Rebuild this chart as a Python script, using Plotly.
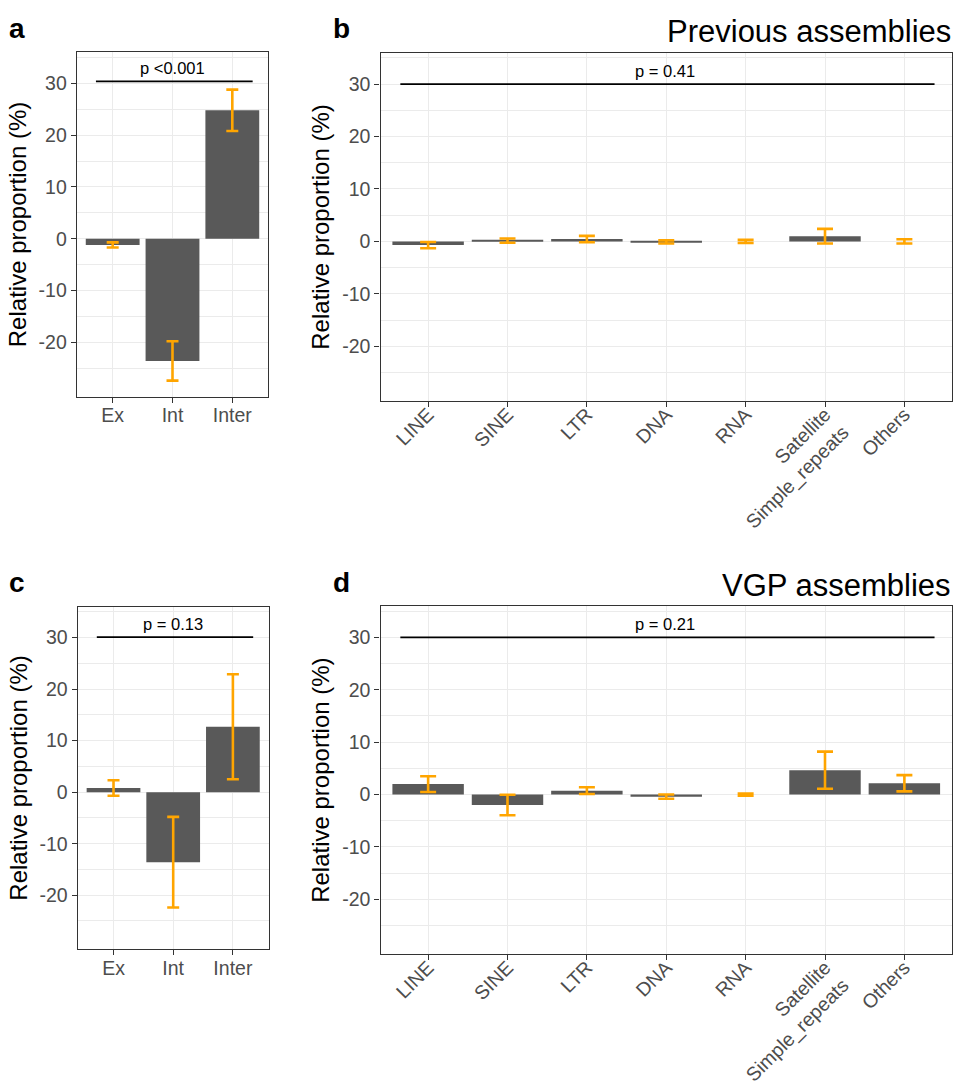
import plotly.graph_objects as go

# ---------------- data ----------------
region_cats = ["Ex", "Int", "Inter"]
repeat_cats = ["LINE", "SINE", "LTR", "DNA", "RNA", "Satellite\nSimple_repeats", "Others"]

a_vals = [-1.2, -23.6, 24.8]
a_err = [0.5, 3.8, 4.0]

b_vals = [-0.7, 0.15, 0.45, -0.1, 0.0, 1.0, 0.0]
b_err = [0.6, 0.4, 0.6, 0.3, 0.3, 1.4, 0.4]

c_vals = [0.8, -13.6, 12.7]
c_err = [1.5, 8.8, 10.2]

d_vals = [2.0, -2.0, 0.75, -0.4, 0.0, 4.65, 2.15]
d_err = [1.5, 1.95, 0.65, 0.4, 0.2, 3.55, 1.55]

p_labels = ["p <0.001", "p = 0.41", "p = 0.13", "p = 0.21"]
bracket_y = [30.4, 30.0, 30.1, 30.0]
panel_letters = ["a", "b", "c", "d"]
panel_titles = ["", "Previous assemblies", "", "VGP assemblies"]
y_ticks = [-20, -10, 0, 10, 20, 30]
y_title = "Relative proportion (%)"

# ---------------- layout helpers ----------------
W, H = 957, 1090
FONT = "Arial, Liberation Sans, Helvetica, sans-serif"
BAR = "#595959"
ERR = "#FFA500"
GRID = "#EBEBEB"
DARK = "#333333"
TICKTXT = "#4D4D4D"
Y_RANGE = [-30.5, 36.0]
TICK_SIZE = 19.5
NBSP_EM = 0.278

# approximate Arial advance widths (em) used to right-align multi-line tick labels
_WIDTHS = {c: 0.556 for c in "abdeghnopqu0123456789_"}
_WIDTHS.update({"S": 0.667, "i": 0.222, "l": 0.222, "m": 0.833, "r": 0.333, "t": 0.278,
                "s": 0.5, "c": 0.5, "k": 0.5, "v": 0.5, "x": 0.5, "y": 0.5, "z": 0.5})


def text_em(s):
    return sum(_WIDTHS.get(ch, 0.6) for ch in s)


def tick_label(cat):
    """Right-align the lines of a multi-line label (as ggplot does with hjust=1)."""
    lines = cat.split("\n")
    if len(lines) == 1:
        return cat
    widest = max(text_em(l) for l in lines)
    out = []
    for l in lines:
        pad = int(round((widest - text_em(l)) / NBSP_EM))
        out.append("&nbsp;" * pad + l)
    return "<br>".join(out)


def px_x(v):
    return v / W


def px_y(v):
    return 1 - v / H


panels = [
    dict(cats=region_cats, vals=a_vals, err=a_err, xd=(76.8, 268.2), yd=(52.3, 396.7),
         br=(-0.28, 0.34), cap=6, angle=0, stand=-4),
    dict(cats=repeat_cats, vals=b_vals, err=b_err, xd=(380.5, 952.0), yd=(52.7, 401.3),
         br=(-0.35, 0.38), cap=8, angle=-45, stand=-12),
    dict(cats=region_cats, vals=c_vals, err=c_err, xd=(77.7, 268.7), yd=(606.7, 949.3),
         br=(-0.28, 0.34), cap=6, angle=0, stand=-4),
    dict(cats=repeat_cats, vals=d_vals, err=d_err, xd=(380.5, 952.0), yd=(606.0, 954.3),
         br=(-0.35, 0.38), cap=8, angle=-45, stand=-12),
]

fig = go.Figure()
shapes = []
annotations = []
minor_vals = [t + 5 for t in [y_ticks[0] - 10] + y_ticks]

for i, p in enumerate(panels):
    n = i + 1
    xa = "x" if n == 1 else f"x{n}"
    ya = "y" if n == 1 else f"y{n}"
    xkey = "xaxis" if n == 1 else f"xaxis{n}"
    ykey = "yaxis" if n == 1 else f"yaxis{n}"
    ncat = len(p["cats"])

    fig.add_trace(go.Bar(
        x=p["cats"], y=p["vals"], width=0.9,
        marker=dict(color=BAR, line=dict(width=0)),
        error_y=dict(type="data", array=p["err"], color=ERR, thickness=2.6, width=p["cap"]),
        xaxis=xa, yaxis=ya, showlegend=False, hoverinfo="skip",
    ))

    fig.layout[xkey] = dict(
        domain=[px_x(p["xd"][0]), px_x(p["xd"][1])], anchor=ya,
        type="category", categoryorder="array", categoryarray=p["cats"],
        tickmode="array", tickvals=p["cats"], ticktext=[tick_label(c) for c in p["cats"]],
        range=[-0.6, ncat - 0.4],
        showgrid=True, gridcolor=GRID, gridwidth=1.1, zeroline=False,
        ticks="outside", ticklen=5, tickwidth=1.1, tickcolor=DARK,
        tickfont=dict(size=TICK_SIZE, color=TICKTXT, family=FONT), tickangle=p["angle"],
        ticklabelstandoff=p["stand"],
        showline=True, mirror=True, linecolor=DARK, linewidth=1.3,
        automargin=False, fixedrange=True,
    )
    fig.layout[ykey] = dict(
        domain=[px_y(p["yd"][1]), px_y(p["yd"][0])], anchor=xa,
        range=Y_RANGE, tickvals=y_ticks, ticktext=[str(t) for t in y_ticks],
        showgrid=True, gridcolor=GRID, gridwidth=1.1, zeroline=False,
        minor=dict(tickvals=minor_vals, showgrid=True, gridcolor=GRID, gridwidth=0.6, ticks=""),
        ticks="outside", ticklen=5, tickwidth=1.1, tickcolor=DARK,
        tickfont=dict(size=TICK_SIZE, color=TICKTXT, family=FONT),
        showline=True, mirror=True, linecolor=DARK, linewidth=1.3,
        title=dict(text=y_title, font=dict(size=24, color="black", family=FONT), standoff=5),
        automargin=False, fixedrange=True,
    )

    # significance bracket
    x0 = p["br"][0]
    x1 = ncat - 1 + p["br"][1]
    shapes.append(dict(type="line", xref=xa, yref=ya, x0=x0, x1=x1,
                       y0=bracket_y[i], y1=bracket_y[i],
                       line=dict(color="black", width=1.8)))
    annotations.append(dict(text=p_labels[i], xref=xa, yref=ya, x=(x0 + x1) / 2 - 0.03,
                            y=bracket_y[i] + 0.4, yanchor="bottom", xanchor="center",
                            showarrow=False, font=dict(size=16.5, color="black", family=FONT)))

    # panel letter
    annotations.append(dict(text=f"<b>{panel_letters[i]}</b>", xref="paper", yref="paper",
                            x=px_x(7 if i % 2 == 0 else 331), y=px_y(p["yd"][0] - 24),
                            xanchor="left", yanchor="middle", showarrow=False,
                            font=dict(size=28, color="black", family=FONT)))
    # panel title
    if panel_titles[i]:
        annotations.append(dict(text=panel_titles[i], xref="paper", yref="paper",
                                x=px_x(p["xd"][1] + 1), y=px_y(p["yd"][0] - 21),
                                xanchor="right", yanchor="middle", showarrow=False,
                                font=dict(size=31, color="black", family=FONT)))

fig.update_layout(
    width=W, height=H,
    margin=dict(l=0, r=0, t=0, b=0),
    paper_bgcolor="white", plot_bgcolor="white",
    font=dict(family=FONT),
    bargap=0.1,
    shapes=shapes, annotations=annotations,
)

fig.write_html("out.html")
